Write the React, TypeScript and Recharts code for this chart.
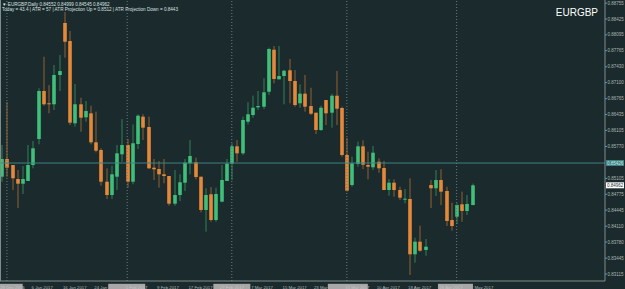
import { ComposedChart, Bar, XAxis, YAxis, ReferenceLine } from 'recharts'

// daily EURGBP candles, 29 Dec 2016 .. 4 May 2017
const opens = [
  0.85141, 0.8551, 0.85385, 0.85093, 0.84995, 0.85052, 0.85385, 0.85926, 0.86926, 0.8667,
  0.86649, 0.87259, 0.88342, 0.87967, 0.86253, 0.86649, 0.86378, 0.86461, 0.85857, 0.85697,
  0.85037, 0.8476, 0.85141, 0.85608, 0.85801, 0.85037, 0.85822, 0.86391, 0.86176, 0.85329,
  0.85301, 0.85191, 0.85156, 0.84579, 0.8476, 0.85016, 0.8542, 0.85441, 0.85141, 0.84448,
  0.84775, 0.84239, 0.84621, 0.85052, 0.85412, 0.85774, 0.85628, 0.86286, 0.86426, 0.86586,
  0.86599, 0.86911, 0.87786, 0.87169, 0.87238, 0.87357, 0.87134, 0.8667, 0.8687, 0.86613,
  0.86474, 0.86114, 0.86738, 0.86474, 0.86828, 0.86572, 0.85593, 0.84968, 0.85406, 0.85774,
  0.85385, 0.85337, 0.85453, 0.85322, 0.84864, 0.85016, 0.84864, 0.8467, 0.84677, 0.83525,
  0.83788, 0.83615, 0.84968, 0.849, 0.85072, 0.84843, 0.84239, 0.84308, 0.84566, 0.84427,
  0.84552,
]
const highs = [
  0.85801, 0.86697, 0.85385, 0.85281, 0.85364, 0.85801, 0.85885, 0.86982, 0.8764, 0.87051,
  0.87467, 0.87675, 0.88571, 0.88175, 0.87072, 0.86786, 0.86718, 0.8662, 0.86495, 0.85733,
  0.85316, 0.8537, 0.85801, 0.86343, 0.85926, 0.86232, 0.86441, 0.86441, 0.86391, 0.8551,
  0.85468, 0.8551, 0.85156, 0.85281, 0.85191, 0.8551, 0.85905, 0.85537, 0.85141, 0.849,
  0.84927, 0.84912, 0.85385, 0.8551, 0.85837, 0.85905, 0.86391, 0.8669, 0.86828, 0.86926,
  0.8719, 0.87827, 0.87863, 0.87863, 0.87363, 0.87592, 0.87363, 0.87065, 0.87259, 0.86994,
  0.86474, 0.8662, 0.86738, 0.8687, 0.87342, 0.86599, 0.85953, 0.85558, 0.8587, 0.85899,
  0.85662, 0.8578, 0.85524, 0.85468, 0.85093, 0.85087, 0.84933, 0.84885, 0.85108, 0.83871,
  0.84121, 0.83844, 0.85072, 0.85281, 0.85295, 0.84933, 0.846, 0.84587, 0.84829, 0.8476,
  0.84999,
]
const lows = [
  0.85037, 0.85141, 0.84864, 0.84489, 0.84781, 0.85052, 0.85316, 0.85816, 0.8662, 0.86461,
  0.8653, 0.86926, 0.87619, 0.86218, 0.86182, 0.86078, 0.86286, 0.85816, 0.85649, 0.84954,
  0.84677, 0.84677, 0.84864, 0.85453, 0.84912, 0.84983, 0.85718, 0.85905, 0.85301, 0.85072,
  0.84912, 0.85004, 0.84537, 0.84537, 0.84635, 0.84843, 0.85191, 0.85087, 0.844, 0.83996,
  0.84204, 0.84204, 0.84608, 0.85052, 0.85072, 0.85453, 0.85593, 0.86232, 0.8637, 0.8653,
  0.86551, 0.86842, 0.87086, 0.87169, 0.86649, 0.8667, 0.86599, 0.86578, 0.86495, 0.86426,
  0.8603, 0.86093, 0.86218, 0.86162, 0.86218, 0.85558, 0.84829, 0.84933, 0.85349, 0.85301,
  0.85087, 0.85281, 0.85224, 0.8486, 0.84745, 0.84725, 0.84656, 0.84587, 0.83094, 0.8335,
  0.83579, 0.83496, 0.84489, 0.84739, 0.84552, 0.84114, 0.84017, 0.84156, 0.84204, 0.84343,
  0.84545,
]
const closes = [
  0.8551, 0.85329, 0.85108, 0.84995, 0.85093, 0.85385, 0.85733, 0.86926, 0.86649, 0.86649,
  0.87259, 0.87342, 0.87952, 0.86266, 0.86649, 0.8637, 0.86509, 0.85857, 0.85683, 0.85037,
  0.8476, 0.85191, 0.85628, 0.85801, 0.85037, 0.85837, 0.86411, 0.86162, 0.85316, 0.85295,
  0.85191, 0.85156, 0.84579, 0.8476, 0.85025, 0.85433, 0.85572, 0.85135, 0.84448, 0.8476,
  0.84239, 0.84781, 0.85072, 0.85412, 0.85774, 0.85628, 0.86322, 0.86441, 0.86578, 0.86613,
  0.86899, 0.878, 0.87176, 0.87238, 0.87348, 0.87134, 0.86634, 0.8687, 0.86599, 0.86453,
  0.86114, 0.86578, 0.86461, 0.86828, 0.86557, 0.85593, 0.8485, 0.8542, 0.85774, 0.85391,
  0.85349, 0.85641, 0.85316, 0.84864, 0.85016, 0.84864, 0.84704, 0.84683, 0.83525, 0.83788,
  0.836, 0.83683, 0.849, 0.85072, 0.84829, 0.84219, 0.84114, 0.84552, 0.84427, 0.84573,
  0.84962,
]

// x axis: bar index of each date label (4 May before 26 Apr so the mask lands on top)
const tickIdx = [0, 6, 12, 18, 24, 30, 36, 42, 48, 54, 60, 66, 72, 78, 90, 84]
const tickLabels = [
  '29 Dec 2016', '6 Jan 2017', '16 Jan 2017', '24 Jan 2017', '1 Feb 2017', '9 Feb 2017',
  '17 Feb 2017', '27 Feb 2017', '7 Mar 2017', '15 Mar 2017', '23 Mar 2017', '31 Mar 2017',
  '10 Apr 2017', '18 Apr 2017', '4 May 2017', '26 Apr 2017',
]
const separators = [1, 24, 44, 66, 87]
const priceTicks = [
  0.88755, 0.88425, 0.88095, 0.87765, 0.8743, 0.871, 0.86765, 0.86435, 0.86105, 0.8577,
  0.85105, 0.84775, 0.84445, 0.8411, 0.8378, 0.83445, 0.83115,
]
const hLevel = 0.85426
const symbol = 'EURGBP'
const headerTop = '\u25BC EURGBP,Daily  0.84552 0.84999 0.84545 0.84962'
const headerInfo = 'Today = 43.4  |  ATR = 57  |  ATR Projection Up = 0.8512  |  ATR Projection Down = 0.8443'

// grey boxes hiding some of the date labels: [dx from tick, width]
const masks: Record<string, [number, number]> = {
  '29 Dec 2016': [-2, 23],
  '1 Feb 2017': [-19, 37],
  '27 Feb 2017': [-8, 37],
  '31 Mar 2017': [-19, 40],
  '26 Apr 2017': [-3, 35],
}

const BG = '#1b2a2c'
const UP = '#3fbf7a'
const DOWN = '#e4883a'
const AXIS = '#7f8d8d'
const TXT = '#aab6b6'
const FONT = 'Liberation Sans, Arial, sans-serif'

const data = opens.map((o, i) => ({
  i,
  o,
  h: highs[i],
  l: lows[i],
  c: closes[i],
  range: [lows[i], highs[i]],
}))

function Candle(props: any) {
  const { x, y, width, height, payload } = props
  if (x == null || y == null || !payload) return null
  const { o, h, l, c } = payload
  const top = Math.min(y, y + height)
  const span = Math.abs(height)
  const py = (v: number) => top + ((h - v) / (h - l)) * span
  const up = c >= o
  const col = up ? UP : DOWN
  const cx = Math.round(x + width / 2)
  const bTop = py(Math.max(o, c))
  const bBot = py(Math.min(o, c))
  return (
    <g>
      <line x1={cx} x2={cx} y1={top} y2={top + span} stroke={col} strokeOpacity={0.6} strokeWidth={1} />
      <rect x={cx - 1.8} y={bTop} width={3.6} height={Math.max(1, bBot - bTop)} fill={col} />
    </g>
  )
}

function DateTick(props: any) {
  const { x, y, payload } = props
  const label = tickLabels[tickIdx.indexOf(payload.value)]
  const m = masks[label]
  if (m) {
    // hidden label: grey box with the text faintly inside
    return (
      <g>
        <rect x={x + m[0]} y={y + 0.8} width={m[1]} height={5.6} fill="#a7a7a7" />
        <text x={x - 1.5} y={y + 5.5} fill="#c6c6c6" fontSize={4.3} fontFamily={FONT}>
          {label}
        </text>
      </g>
    )
  }
  return (
    <text x={x - 1.5} y={y + 5.5} fill={TXT} fontSize={4.3} fontFamily={FONT}>
      {label}
    </text>
  )
}

function PriceTag(props: any) {
  const { viewBox, text, bg, fg } = props
  if (!viewBox) return null
  const x = viewBox.x + viewBox.width + 1
  const y = viewBox.y
  return (
    <g>
      <rect x={x} y={y - 3} width={18} height={6} fill={bg} />
      <text x={x + 1} y={y + 1.6} fill={fg} fontSize={4.5} fontFamily={FONT}>
        {text}
      </text>
    </g>
  )
}

export default function App() {
  const last = closes[closes.length - 1]
  return (
    <div style={{ position: 'relative', width: 625, height: 289, background: BG }}>
      <style>{`body{margin:0;background:${BG}}`}</style>
      <ComposedChart width={625} height={289} data={data} margin={{ top: 0, right: 0, left: 0, bottom: 0 }}>
        <XAxis
          dataKey="i"
          type="number"
          domain={[-0.325, 115.37]}
          allowDataOverflow
          ticks={tickIdx}
          interval={0}
          height={8}
          tickLine={false}
          tickSize={0}
          axisLine={{ stroke: AXIS }}
          tick={<DateTick />}
        />
        <YAxis
          orientation="right"
          type="number"
          domain={[0.82969, 0.88821]}
          allowDataOverflow
          ticks={priceTicks}
          interval={0}
          width={20}
          tickSize={2}
          tickMargin={0.5}
          axisLine={{ stroke: AXIS }}
          tickLine={{ stroke: AXIS }}
          tick={{ fill: TXT, fontSize: 4.5, fontFamily: FONT }}
          tickFormatter={(v: number) => v.toFixed(5)}
        />
        {separators.map((s) => (
          <ReferenceLine key={s} x={s} stroke="#6c7a7a" strokeDasharray="1 2" />
        ))}
        <ReferenceLine
          y={hLevel}
          stroke="#3f8486"
          strokeWidth={1}
          label={<PriceTag text={hLevel.toFixed(5)} bg="#3f8486" fg="#cfe4e4" />}
        />
        <ReferenceLine
          y={last}
          stroke="none"
          label={<PriceTag text={last.toFixed(5)} bg="#ffffff" fg="#1b2a2c" />}
        />
        <Bar dataKey="range" barSize={4} shape={(p: any) => <Candle {...p} />} isAnimationActive={false} />
      </ComposedChart>
      <svg width={625} height={289} style={{ position: 'absolute', left: 0, top: 0, pointerEvents: 'none' }}>
        <line x1={0.5} x2={0.5} y1={0} y2={281} stroke={AXIS} />
        <text x={2} y={6} fill="#d8e0e0" fontSize={4.6} fontFamily={FONT}>
          {headerTop}
        </text>
        <text x={2} y={11} fill="#d8e0e0" fontSize={4.6} fontFamily={FONT}>
          {headerInfo}
        </text>
        <text x={598} y={15.5} textAnchor="end" fill="#ffffff" fontSize={10} fontFamily={FONT}>
          {symbol}
        </text>
      </svg>
    </div>
  )
}
